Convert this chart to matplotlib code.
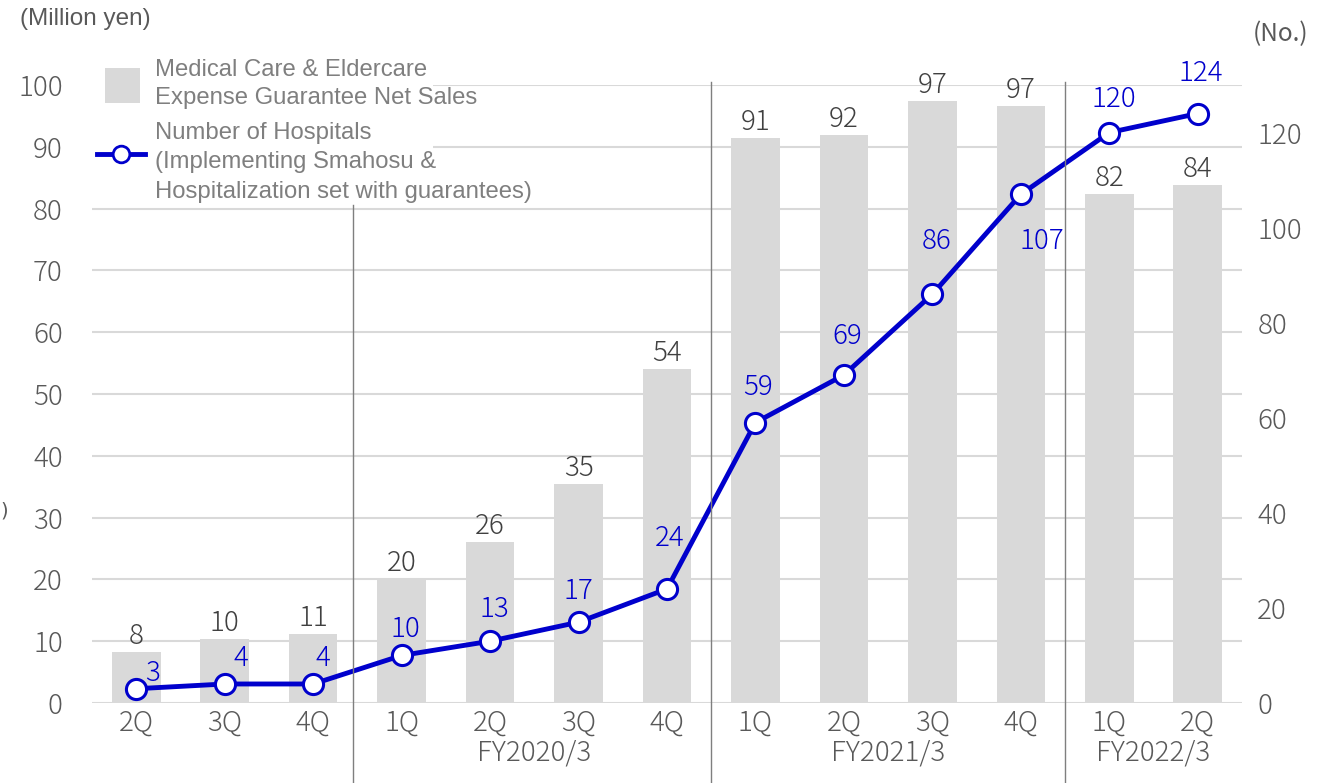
import matplotlib
matplotlib.use("Agg")
import matplotlib.pyplot as plt
from matplotlib.lines import Line2D
from matplotlib.patches import Rectangle
import matplotlib.transforms as mtransforms

# ---------------- data ----------------
quarters = ["2Q", "3Q", "4Q", "1Q", "2Q", "3Q", "4Q", "1Q", "2Q", "3Q", "4Q", "1Q", "2Q"]
fiscal_years = ["FY2020/3", "FY2021/3", "FY2022/3"]
fiscal_first = [3, 7, 11]
fiscal_last = [6, 10, 12]
sales = [8.2, 10.4, 11.2, 20.1, 26.0, 35.4, 54.0, 91.4, 91.9, 97.4, 96.6, 82.4, 83.8]
hospitals = [3, 4, 4, 10, 13, 17, 24, 59, 69, 86, 107, 120, 124]
left_ticks = [0, 10, 20, 30, 40, 50, 60, 70, 80, 90, 100]
right_ticks = [0, 20, 40, 60, 80, 100, 120]

# label offsets for hospital counts (pixels, dx, dy)
hosp_label_dx = [16, 16, 10, 4, 4, 0, 3, 3, 3, 4, 21, 5, 3]
hosp_label_dy = [16, 26, 26, 26, 32, 31, 51, 36, 39, 53, -47, 34, 41]

# ---------------- style ----------------
W, H, DPI = 1327, 783, 100
BAR_C = "#d9d9d9"
GRID_C = "#d9d9d9"
TICK_C = "#595959"
VAL_C = "#404040"
BLUE = "#0000cc"
LEG_C = "#7f7f7f"
SEP_C = "#7f7f7f"
NUM_FONT = ["Noto Sans CJK JP", "DejaVu Sans"]
LEG_FONT = ["Liberation Sans", "DejaVu Sans"]
NUM_SIZE = 20
NUM_WEIGHT = "light"

fig = plt.figure(figsize=(W / DPI, H / DPI), dpi=DPI)
fig.patch.set_facecolor("white")

ax_l, ax_r = 92, 1242
ax_b, ax_t = 703, 85
ax = fig.add_axes([ax_l / W, 1 - ax_b / H, (ax_r - ax_l) / W, (ax_b - ax_t) / H])
ax2 = ax.twinx()

x = list(range(len(quarters)))

ax.bar(x, sales, width=0.55, color=BAR_C, zorder=2)
ax.set_xlim(-0.5, len(quarters) - 0.5)
ax.set_ylim(0, 100)
ax.set_yticks(left_ticks)
ax.grid(axis="y", color=GRID_C, linewidth=1.5, zorder=0)
ax.set_axisbelow(True)
for s in ax.spines.values():
    s.set_visible(False)
for s in ax2.spines.values():
    s.set_visible(False)

ax.tick_params(axis="y", length=0, pad=21, labelsize=NUM_SIZE, labelcolor=TICK_C)
ax.tick_params(axis="x", length=0, pad=4, labelsize=NUM_SIZE, labelcolor=TICK_C)
ax.set_xticks(x)
ax.set_xticklabels(quarters)
for lab in ax.get_xticklabels() + ax.get_yticklabels():
    lab.set_family(NUM_FONT)
    lab.set_weight(NUM_WEIGHT)

for xi, v in zip(x, sales):
    ax.annotate(f"{v:.0f}", (xi, v), xytext=(0, 16), textcoords="offset pixels",
                ha="center", va="center", fontsize=NUM_SIZE, color=VAL_C,
                family=NUM_FONT, weight=NUM_WEIGHT, zorder=4)

# legend background box (covers gridlines)
ax.add_patch(Rectangle((-0.6, 80.6), 3.95, 25, facecolor="white", edgecolor="none",
                       zorder=1.5, clip_on=False))

# line on right axis
ax2.plot(x, hospitals, color=BLUE, linewidth=3.5, marker="o", markersize=14.5,
         markerfacecolor="white", markeredgecolor=BLUE, markeredgewidth=2.2, zorder=5)
ax2.set_ylim(0, 130)
ax2.set_yticks(right_ticks)
ax2.tick_params(axis="y", length=0, pad=11, labelsize=NUM_SIZE, labelcolor=TICK_C)
for lab in ax2.get_yticklabels():
    lab.set_family(NUM_FONT)
    lab.set_weight(NUM_WEIGHT)

for xi, v, dx, dy in zip(x, hospitals, hosp_label_dx, hosp_label_dy):
    ax2.annotate(f"{v}", (xi, v), xytext=(dx, dy), textcoords="offset pixels",
                 ha="center", va="center", fontsize=NUM_SIZE, color=BLUE,
                 family=NUM_FONT, weight=NUM_WEIGHT, zorder=6)

# separators
blend = mtransforms.blended_transform_factory(ax.transData, fig.transFigure)
sep_x = [2.45, 6.5, 10.5]
sep_top = [205, 82, 82]
for sx, st in zip(sep_x, sep_top):
    fig.add_artist(Line2D([sx, sx], [0, 1 - st / H], transform=blend, color=SEP_C,
                          linewidth=1.0, clip_on=False, zorder=3))

# fiscal year labels
for name, a, b in zip(fiscal_years, fiscal_first, fiscal_last):
    fig.text((a + b) / 2, 1 - 752 / H, name, transform=blend, ha="center", va="center",
             fontsize=NUM_SIZE, color=TICK_C, family=NUM_FONT, weight=NUM_WEIGHT)

# axis unit labels
fig.text(20 / W, 1 - 19 / H, "(Million yen)", ha="left", va="center", fontsize=17.5,
         color=TICK_C, family=LEG_FONT)
fig.text(1281 / W, 1 - 34 / H, "(No.)", ha="center", va="center", fontsize=17.5,
         color=TICK_C, family=["Noto Sans CJK JP", "DejaVu Sans"])
fig.text(0, 1 - 511 / H, ")", ha="left", va="center", fontsize=14, color=TICK_C)

# legend (manual)
fig.add_artist(Rectangle((105 / W, 1 - 103 / H), 35 / W, 35 / H, transform=fig.transFigure,
                         facecolor=BAR_C, edgecolor="none", zorder=5))
fig.add_artist(Line2D([97 / W, 145 / W], [1 - 154 / H, 1 - 154 / H], transform=fig.transFigure,
                      color=BLUE, linewidth=3.5, zorder=5))
fig.add_artist(Line2D([121 / W], [1 - 154 / H], transform=fig.transFigure, marker="o",
                      markersize=12, markerfacecolor="white", markeredgecolor=BLUE,
                      markeredgewidth=2, zorder=6))
leg_lines = ["Medical Care & Eldercare", "Expense Guarantee Net Sales",
             "Number of Hospitals", "(Implementing Smahosu &",
             "Hospitalization set with guarantees)"]
leg_y = [70, 98, 133, 162, 192]
for t, yy in zip(leg_lines, leg_y):
    fig.text(155 / W, 1 - yy / H, t, ha="left", va="center", fontsize=17.2,
             color=LEG_C, family=LEG_FONT, zorder=6)

fig.savefig("out.png", dpi=DPI)
